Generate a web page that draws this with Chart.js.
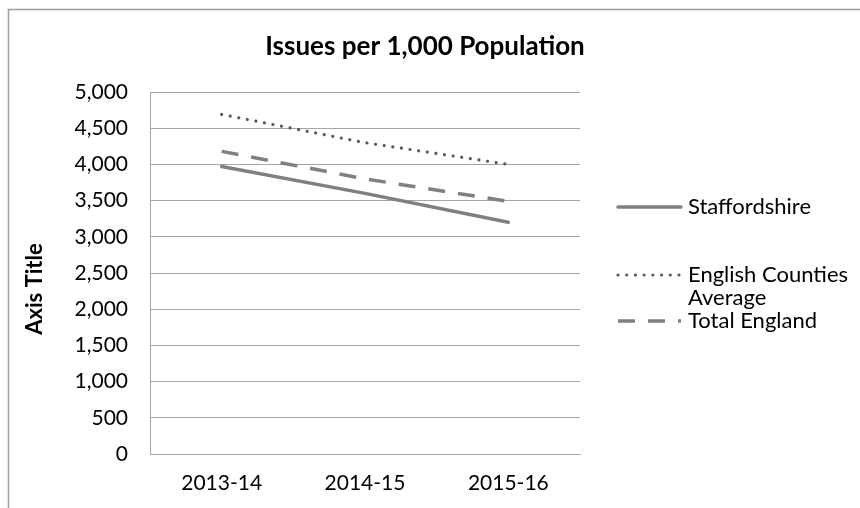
<!DOCTYPE html>
<html>
<head>
<meta charset="utf-8">
<script src="https://cdn.jsdelivr.net/npm/chart.js@4.4.1/dist/chart.umd.min.js"></script>
<style>
  html, body { margin: 0; padding: 0; background: #fff; }
  #wrap { width: 860px; height: 508px; position: relative; }
</style>
</head>
<body>
<div id="wrap"><canvas id="c" width="860" height="508"></canvas></div>
<script>
// Issues per 1,000 population by year
const categories = ['2013-14', '2014-15', '2015-16'];
const staffordshire = [3970, 3600, 3200];
const countiesAverage = [4690, 4300, 4000];
const totalEngland = [4180, 3800, 3490];
const seriesLabels = [['Staffordshire'], ['English Counties', 'Average'], ['Total England']];
const yMin = 0, yMax = 5000, yStep = 500;
const chartTitle = 'Issues per 1,000 Population';
const yAxisTitle = 'Axis Title';

const FONT = 'Lato, "Liberation Sans", sans-serif';
const GRID = '#a6a6a6';

// Frame, title, rotated axis title and the line-sample legend
const decorations = {
  id: 'decorations',
  afterDraw(chart) {
    const ctx = chart.ctx;
    ctx.save();
    // outer frame (top and left edges)
    ctx.strokeStyle = '#a0a0a0';
    ctx.lineWidth = 1.5;
    ctx.beginPath();
    ctx.moveTo(860, 9.5);
    ctx.lineTo(8.5, 9.5);
    ctx.lineTo(8.5, 508);
    ctx.stroke();

    // title
    ctx.fillStyle = '#000';
    ctx.font = 'bold 26px ' + FONT;
    ctx.textAlign = 'center';
    ctx.textBaseline = 'middle';
    ctx.fillText(chartTitle, 425, 47);

    // y axis title
    ctx.save();
    ctx.translate(35, 289);
    ctx.rotate(-Math.PI / 2);
    ctx.font = 'bold 22px ' + FONT;
    ctx.fillText(yAxisTitle, 0, 0);
    ctx.restore();

    // legend
    const rows = [207, 275, 321];
    const lineGap = 23;
    chart.data.datasets.forEach((ds, i) => {
      const y = rows[i];
      ctx.save();
      ctx.strokeStyle = ds.borderColor;
      ctx.lineWidth = ds.borderWidth;
      ctx.lineCap = ds.borderCapStyle || 'butt';
      ctx.setLineDash(ds.borderDash || []);
      ctx.beginPath();
      ctx.moveTo(618, y);
      ctx.lineTo(681, y);
      ctx.stroke();
      ctx.restore();
      ctx.fillStyle = '#000';
      ctx.font = '22px ' + FONT;
      ctx.textAlign = 'left';
      ctx.textBaseline = 'middle';
      seriesLabels[i].forEach((t, k) => ctx.fillText(t, 688, y + k * lineGap));
    });
    ctx.restore();
  }
};

new Chart(document.getElementById('c'), {
  type: 'line',
  data: {
    labels: categories,
    datasets: [
      {
        label: seriesLabels[0].join(' '),
        data: staffordshire,
        borderColor: '#808080',
        borderWidth: 3.5,
        borderCapStyle: 'round',
        borderDash: [],
        pointRadius: 0
      },
      {
        label: seriesLabels[1].join(' '),
        data: countiesAverage,
        borderColor: '#5a5a5a',
        borderWidth: 3.2,
        borderCapStyle: 'round',
        borderDash: [0.01, 8.7],
        pointRadius: 0
      },
      {
        label: seriesLabels[2].join(' '),
        data: totalEngland,
        borderColor: '#808080',
        borderWidth: 3.5,
        borderCapStyle: 'butt',
        borderDash: [17, 13],
        pointRadius: 0
      }
    ]
  },
  options: {
    responsive: false,
    animation: false,
    devicePixelRatio: 1,
    layout: { padding: { top: 92, right: 280, left: 0, bottom: 0 } },
    plugins: {
      legend: { display: false },
      title: { display: false },
      tooltip: { enabled: false }
    },
    elements: { line: { tension: 0 } },
    scales: {
      x: {
        offset: true,
        grid: { display: false, drawTicks: false },
        border: { display: true, color: GRID, width: 1 },
        ticks: { color: '#000', font: { family: FONT, size: 21 }, padding: 17, maxRotation: 0 },
        afterFit(scale) { scale.height = 54; }
      },
      y: {
        min: yMin,
        max: yMax,
        grid: { color: GRID, lineWidth: 1, drawTicks: false },
        border: { display: true, color: GRID, width: 1 },
        ticks: {
          stepSize: yStep,
          color: '#000',
          font: { family: FONT, size: 21 },
          padding: 22,
          callback: v => v.toLocaleString('en-US')
        },
        afterFit(scale) { scale.width = 150; }
      }
    }
  },
  plugins: [decorations]
});
</script>
</body>
</html>
